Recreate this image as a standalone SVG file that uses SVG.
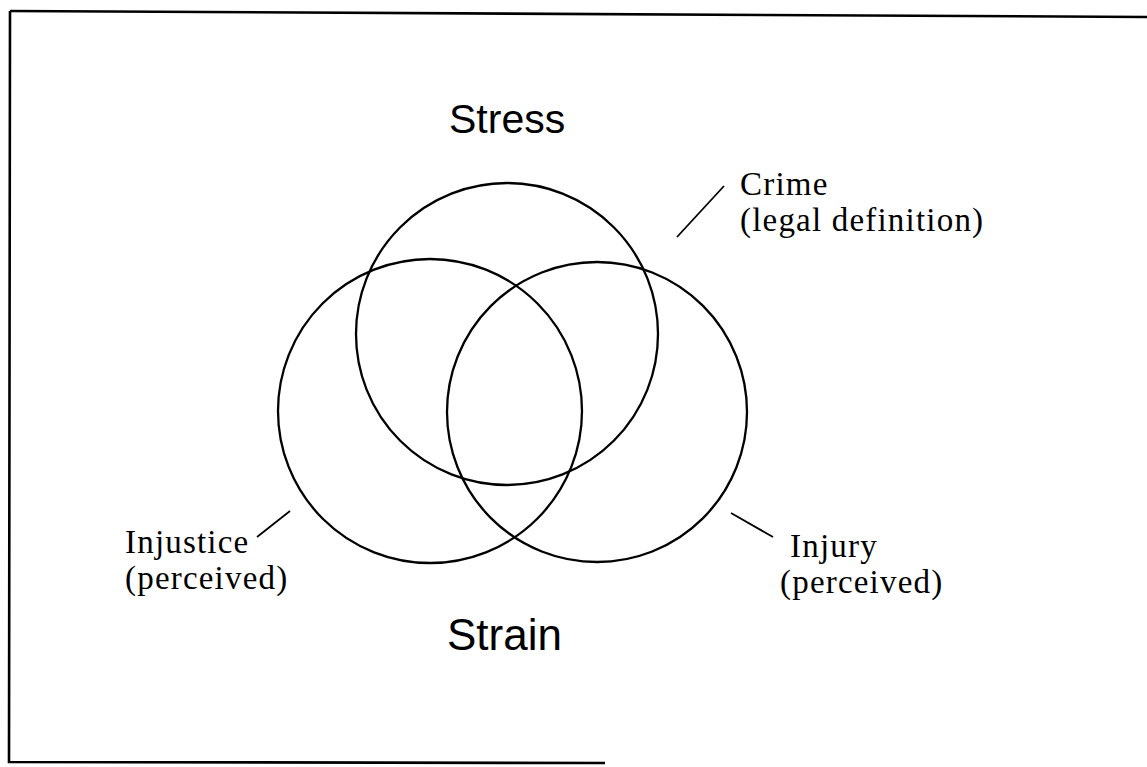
<svg xmlns="http://www.w3.org/2000/svg" width="1147" height="767" viewBox="0 0 1147 767">
<style>
.ring{fill:none;stroke:#000;stroke-width:2.3}
.lead{stroke:#000;stroke-width:1.8;fill:none}
.frame{stroke:#000;stroke-width:2.6;fill:none}
.big{font-family:"Liberation Sans",Arial,sans-serif;font-size:41px;fill:#000}
.lbl{font-family:"Liberation Serif","Times New Roman",serif;font-size:33px;letter-spacing:1.2px;fill:#000}
</style>
<rect width="1147" height="767" fill="#fff"/>
<g id="frame">
<path class="frame" d="M10,11 L1147,17"/>
<path class="frame" d="M10,11 L9,762 L605,763"/>
</g>
<g id="stress">
<circle class="ring" cx="507" cy="334" r="151"/>
<text class="big" x="449" y="133">Stress</text>
</g>
<g id="injustice">
<circle class="ring" cx="430" cy="411" r="152"/>
<text class="lbl" x="125" y="553">Injustice</text>
<text class="lbl" x="125" y="589">(perceived)</text>
</g>
<g id="injury">
<circle class="ring" cx="597" cy="412" r="150"/>
<text class="lbl" x="790" y="557">Injury</text>
<text class="lbl" x="780" y="593">(perceived)</text>
</g>
<g id="crime">
<text class="lbl" x="740" y="195">Crime</text>
<text class="lbl" x="740" y="231">(legal definition)</text>
</g>
<g id="strain">
<text class="big" x="447" y="650" style="font-size:44px">Strain</text>
</g>
<g id="connectors">
<line class="lead" x1="677" y1="237" x2="724" y2="186"/>
<line class="lead" x1="257" y1="537" x2="290" y2="511"/>
<line class="lead" x1="731" y1="513" x2="773" y2="537"/>
</g>
</svg>
